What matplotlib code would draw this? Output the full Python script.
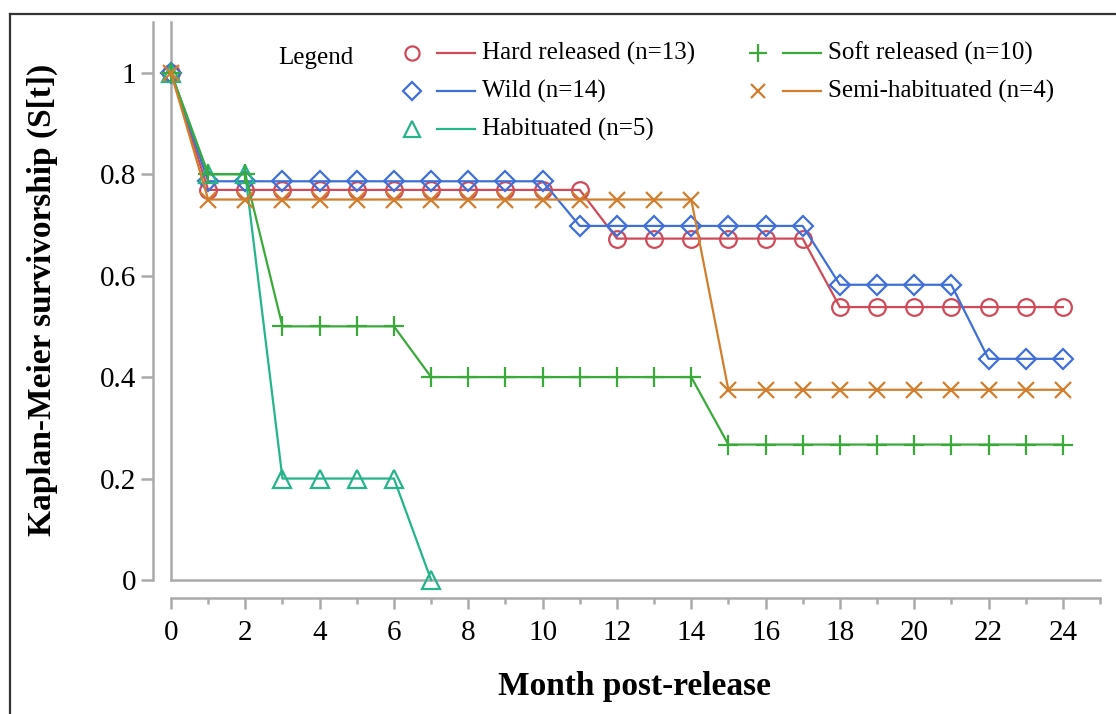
import matplotlib
matplotlib.use("Agg")
import matplotlib.pyplot as plt
from matplotlib.lines import Line2D
import numpy as np

plt.rcParams['font.family'] = ['Liberation Serif', 'DejaVu Serif']

months = list(range(25))
hard = [1.0] + [0.769] * 11 + [0.673] * 6 + [0.538] * 7
wild = [1.0] + [0.786] * 10 + [0.698] * 7 + [0.582] * 4 + [0.436] * 3
habituated = [1.0, 0.8, 0.8, 0.2, 0.2, 0.2, 0.2, 0.0]
soft = [1.0, 0.8, 0.8] + [0.5] * 4 + [0.4] * 8 + [0.267] * 10
semi = [1.0] + [0.75] * 14 + [0.375] * 10

labels = ["Hard released (n=13)", "Wild (n=14)", "Habituated (n=5)",
          "Soft released (n=10)", "Semi-habituated (n=4)"]
series = [hard, wild, habituated, soft, semi]
colors = ["#d04a5a", "#3f6fd8", "#25b48c", "#3aaa3a", "#d27e2c"]
markers = ["o", "D", "^", "+", "x"]
msizes = [12, 10.5, 13, 15, 11.5]

W, H = 1116, 714
fig = plt.figure(figsize=(W / 100, H / 100), dpi=100)
ax = fig.add_axes([171 / W, (H - 580) / H, (1100 - 171) / W, (580 - 22) / H])

gray = "#aaaaaa"
for s, c, m, ms in zip(series, colors, markers, msizes):
    x = months[:len(s)]
    kw = dict(markerfacecolor="none") if m in ("o", "D", "^") else {}
    ax.plot(x, s, color=c, lw=1.6, marker=m, markersize=ms,
            markeredgewidth=1.6, markeredgecolor=c, clip_on=False, zorder=3, **kw)

ax.set_xlim(0, 25)
ax.set_ylim(0, 1.10)
ax.set_xticks(range(0, 25, 2))
ax.set_xticks(range(1, 26, 2), minor=True)
ax.set_yticks([0, 0.2, 0.4, 0.6, 0.8, 1.0])
ax.set_yticklabels(["0", "0.2", "0.4", "0.6", "0.8", "1"])

for side in ["top", "right"]:
    ax.spines[side].set_visible(False)
for side in ["left", "bottom"]:
    ax.spines[side].set_color(gray)
    ax.spines[side].set_linewidth(1.8)
    ax.spines[side].set_position(("outward", 13))

# inner axis lines
ax.plot([0, 0], [0, 1], transform=ax.transAxes, color=gray, lw=1.8, clip_on=False, zorder=1)
ax.plot([0, 1], [0, 0], transform=ax.transAxes, color=gray, lw=1.8, clip_on=False, zorder=1)

ax.tick_params(axis="both", which="major", color=gray, width=1.8, labelsize=21)
ax.tick_params(axis="y", which="major", length=9, pad=3)
ax.tick_params(axis="x", which="major", length=8, pad=8)
ax.tick_params(axis="x", which="minor", length=4, color=gray, width=1.8)

fig.text(635 / W, 1 - 686 / H, "Month post-release", fontsize=24, fontweight="bold",
         ha="center", va="center")
fig.text(42 / W, 1 - 300 / H, "Kaplan-Meier survivorship (S[t])", fontsize=24,
         fontweight="bold", ha="center", va="center", rotation=90)

# legend
fig.text(316 / W, 1 - 58 / H, "Legend", fontsize=18, ha="center", va="center")
col_x = [412, 758]
row_y = [53, 91, 129]
pos = [(0, 0), (0, 1), (0, 2), (1, 0), (1, 1)]
for (ci, ri), lab, c, m, ms in zip(pos, labels, colors, markers, msizes):
    mx, y = col_x[ci], row_y[ri]
    kw = dict(markerfacecolor="none") if m in ("o", "D", "^") else {}
    fig.add_artist(Line2D([mx / W], [1 - y / H], marker=m, color=c,
                          markersize=ms * 0.85, markeredgewidth=1.6,
                          markeredgecolor=c, linestyle="none", **kw))
    fig.add_artist(Line2D([(mx + 25) / W, (mx + 63) / W], [1 - y / H, 1 - y / H],
                          color=c, lw=1.6))
    fig.text((mx + 70) / W, 1 - y / H, lab, fontsize=18, ha="left", va="center")

# frame
fig.add_artist(Line2D([10 / W, 1.0], [1 - 14 / H, 1 - 14 / H], color="#333333", lw=1.6))
fig.add_artist(Line2D([10 / W, 10 / W], [0.0, 1 - 14 / H], color="#333333", lw=1.6))

fig.savefig("out.png", dpi=100, facecolor="white")
